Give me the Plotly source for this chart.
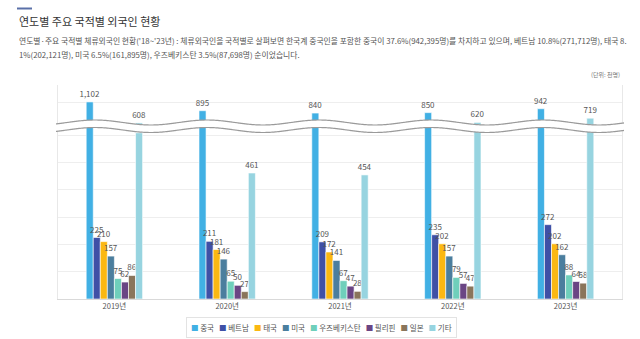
import numpy as np
import plotly.graph_objects as go

# ---------------- data ----------------
years = ['2019년', '2020년', '2021년', '2022년', '2023년']
series_names = ['중국', '베트남', '태국', '미국', '우즈베키스탄', '필리핀', '일본', '기타']
china = [1102, 895, 840, 850, 942]
vietnam = [225, 211, 209, 235, 272]
thailand = [210, 181, 172, 202, 202]
usa = [157, 146, 141, 157, 162]
uzbekistan = [75, 65, 67, 79, 88]
philippines = [62, 50, 47, 57, 64]
japan = [86, 27, 28, 47, 58]
others = [608, 461, 454, 620, 719]
series_values = [china, vietnam, thailand, usa, uzbekistan, philippines, japan, others]
colors = ['#41b0e4', '#3f50a6', '#fbb812', '#4b7e9e', '#6fcfbb', '#6a4584', '#8a755b', '#97d4e0']

title = '연도별 주요 국적별 외국인 현황'
desc1 = ("연도별·주요 국적별 체류외국인 현황('18~'23년) : 체류외국인을 국적별로 살펴보면 한국계 중국인을 포함한 "
         "중국이 37.6%(942,395명)를 차지하고 있으며, 베트남 10.8%(271,712명), 태국 8.")
desc2 = "1%(202,121명), 미국 6.5%(161,895명), 우즈베키스탄 3.5%(87,698명) 순이었습니다."
unit = '(단위: 천명)'

# ---------------- geometry ----------------
W, H = 640, 339
L, R, T, B = 58, 18, 85, 40
PW, PH = W - L - R, H - T - B
BOTTOM = H - B


def pxx(x):
    return (x - L) / PW


def pxy(y):
    return (BOTTOM - y) / PH


BREAK = 600
k_low = 164 / 600.0        # px per unit, lower part
k_up = 0.0425              # px per unit, upper part
low_top_px = 127
up_bot_px = 126
low_range = [0, (BOTTOM - low_top_px) / k_low]
up_range = [1500 - (up_bot_px - T) / k_up, 1500.01]

FONT = 'Noto Sans CJK KR'
fig = go.Figure()

for name, vals, col in zip(series_names, series_values, colors):
    low_text = [f'{v:,}' if v < BREAK else '' for v in vals]
    up_text = [f'{v:,}' if v >= BREAK else '' for v in vals]
    common = dict(x=years, y=vals, name=name, marker=dict(color=col, line=dict(color='white', width=0.6)),
                  textposition='outside', cliponaxis=False, constraintext='none',
                  textfont=dict(size=8, color='#555', family=FONT), hoverinfo='skip')
    fig.add_trace(go.Bar(text=low_text, xaxis='x', yaxis='y', showlegend=False, **common))
    fig.add_trace(go.Bar(text=up_text, xaxis='x', yaxis='y2', showlegend=False, **common))

# ---------------- break band ----------------
xs = np.arange(L - 2, L + PW + 3, 1.0)
P, x0, A = 112.0, 95.0, 2.5
w = np.cos(2 * np.pi * (xs - x0) / P)
y_up = 122.5 - A * w
y_lo = 130.0 - A * w


def path_of(xv, yv):
    return 'M' + ' L'.join(f'{pxx(a):.5f},{pxy(b):.5f}' for a, b in zip(xv, yv))


fill_path = path_of(xs, y_up) + ' L' + ' L'.join(
    f'{pxx(a):.5f},{pxy(b):.5f}' for a, b in zip(xs[::-1], y_lo[::-1])) + ' Z'
shapes = [
    dict(type='path', path=fill_path, xref='paper', yref='paper', fillcolor='white',
         line=dict(width=0), layer='above'),
    dict(type='path', path=path_of(xs, y_up), xref='paper', yref='paper',
         line=dict(color='#9a9a9a', width=1.2), layer='above'),
    dict(type='path', path=path_of(xs, y_lo), xref='paper', yref='paper',
         line=dict(color='#9a9a9a', width=1.2), layer='above'),
    dict(type='rect', xref='paper', yref='paper', x0=pxx(17), x1=pxx(32), y0=pxy(9.5), y1=pxy(7.5),
         fillcolor='#5a70a8', line=dict(width=0)),
]

# ---------------- custom legend ----------------
legend_items = []
for name, col in zip(series_names, colors):
    legend_items.append(f'<span style="color:{col}">■</span>\u00a0{name}')
legend_text = '\u00a0\u00a0\u00a0'.join(legend_items)

annotations = [
    dict(text=title, x=pxx(17), y=pxy(21), xref='paper', yref='paper', xanchor='left', yanchor='middle',
         showarrow=False, font=dict(size=11, color='#333', family=FONT)),
    dict(text=desc1, x=pxx(17), y=pxy(41), xref='paper', yref='paper', xanchor='left', yanchor='middle',
         showarrow=False, font=dict(size=7.8, color='#555', family=FONT)),
    dict(text=desc2, x=pxx(17), y=pxy(54), xref='paper', yref='paper', xanchor='left', yanchor='middle',
         showarrow=False, font=dict(size=7.8, color='#555', family=FONT)),
    dict(text=unit, x=pxx(622), y=pxy(74), xref='paper', yref='paper', xanchor='right', yanchor='middle',
         showarrow=False, font=dict(size=6, color='#777', family=FONT)),
    dict(text=legend_text, x=pxx(321.5), y=pxy(327.5), xref='paper', yref='paper', xanchor='center',
         yanchor='middle', showarrow=False, font=dict(size=7.5, color='#555', family=FONT),
         bordercolor='#e3e3e3', borderwidth=1, borderpad=4, bgcolor='white'),
]

fig.update_layout(
    width=W, height=H,
    margin=dict(l=L, r=R, t=T, b=B),
    paper_bgcolor='white', plot_bgcolor='white',
    barmode='group', bargap=0.5, bargroupgap=0,
    showlegend=False,
    font=dict(family=FONT, color='#555'),
    xaxis=dict(domain=[0, 1], anchor='y', showline=True, linecolor='#d9d9d9', linewidth=1,
               ticks='', tickfont=dict(size=7.5, color='#555', family=FONT), showgrid=False),
    yaxis=dict(domain=[0, pxy(low_top_px)], range=low_range, tickvals=[0, 100, 200, 300, 400, 500, 600],
               showticklabels=False, gridcolor='#eeeeee', zeroline=False, showline=True,
               linecolor='#e8e8e8', mirror=True, ticks=''),
    yaxis2=dict(domain=[pxy(up_bot_px), 1], range=up_range, anchor='x', tickvals=[1100, 1500],
                showticklabels=False, gridcolor='#eeeeee', zeroline=False, showline=True,
                linecolor='#e8e8e8', mirror=True, ticks=''),
    shapes=shapes,
    annotations=annotations,
)

fig.write_html('out.html')
